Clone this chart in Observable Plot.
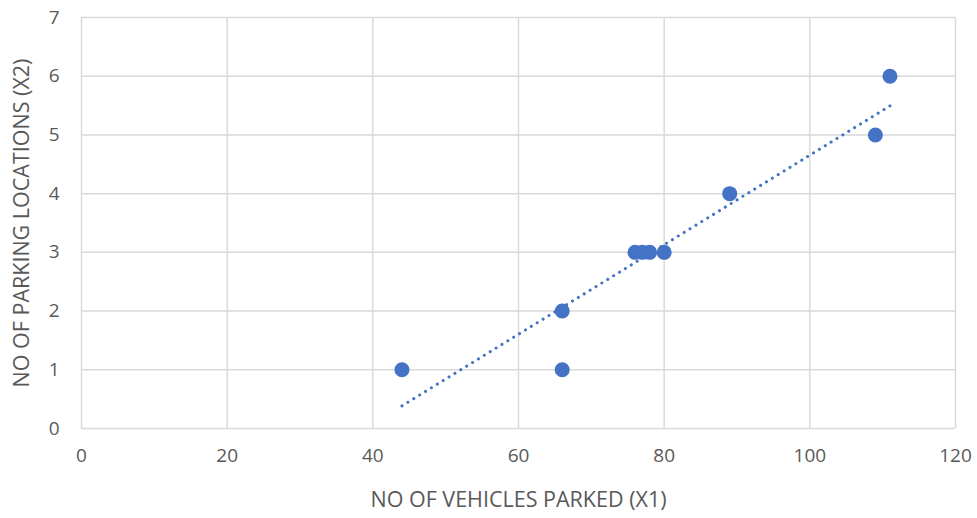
<!DOCTYPE html>
<html>
<head>
<meta charset="utf-8">
<script src="https://cdn.jsdelivr.net/npm/d3@7"></script>
<script src="https://cdn.jsdelivr.net/npm/@observablehq/plot@0.6"></script>
<style>
  html, body { margin: 0; padding: 0; background: #fff; }
  svg g[aria-label="x-axis label"] text, svg g[aria-label="y-axis label"] text { font-size: 21.5px; }
</style>
</head>
<body>
<div id="chart"></div>
<script>
const vehicles = [44, 66, 66, 76, 77, 78, 80, 89, 109, 111];
const locations = [1, 2, 1, 3, 3, 3, 3, 4, 5, 6];
const xTicks = [0, 20, 40, 60, 80, 100, 120];
const yTicks = [0, 1, 2, 3, 4, 5, 6, 7];
const xTitle = "NO OF VEHICLES PARKED (X1)";
const yTitle = "NO OF PARKING LOCATIONS (X2)";

const data = vehicles.map((v, i) => ({x: v, y: locations[i]}));

const chart = Plot.plot({
  width: 977,
  height: 518,
  marginLeft: 81,
  marginRight: 22,
  marginTop: 17,
  marginBottom: 90,
  style: {fontFamily: "'Open Sans', 'Noto Sans', sans-serif", fontSize: "19px", color: "#595959", background: "#fff"},
  x: {domain: [0, 120], ticks: xTicks},
  y: {domain: [0, 7], ticks: yTicks},
  marks: [
    Plot.gridX(xTicks, {stroke: "#d9d9d9", strokeOpacity: 1, strokeWidth: 1.5}),
    Plot.gridY(yTicks, {stroke: "#d9d9d9", strokeOpacity: 1, strokeWidth: 1.5}),
    Plot.axisX(xTicks, {tickSize: 0, tickPadding: 20, tickFormat: "d", label: xTitle, labelAnchor: "center", labelArrow: "none", labelOffset: 78, fontSize: 19}),
    Plot.axisY(yTicks, {tickSize: 0, tickPadding: 22, tickFormat: "d", label: yTitle, labelAnchor: "center", labelArrow: "none", labelOffset: 68, fontSize: 19}),
    Plot.linearRegressionY(data, {x: "x", y: "y", ci: 0, stroke: "#4472C4", strokeWidth: 3, strokeDasharray: "0.1,6.8", strokeLinecap: "round"}),
    Plot.dot(data, {x: "x", y: "y", r: 7.5, fill: "#4472C4", stroke: "none"})
  ]
});
document.getElementById("chart").appendChild(chart);
</script>
</body>
</html>
